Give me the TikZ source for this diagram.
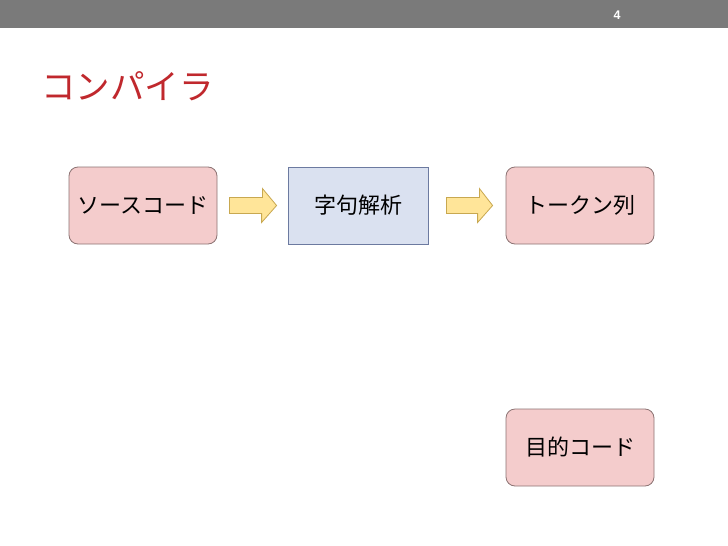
\documentclass[tikz,border=0pt]{standalone}
\usepackage{fontspec}
\usetikzlibrary{calc}
\newfontfamily\jp{Noto Sans CJK JP}
\setmainfont{Liberation Sans}
\definecolor{barg}{HTML}{7A7A7A}
\definecolor{titler}{HTML}{C0282D}
\definecolor{pinkf}{HTML}{F4CCCC}
\definecolor{pinkd}{HTML}{8C7373}
\definecolor{bluef}{HTML}{DAE1F0}
\definecolor{blued}{HTML}{6C7AA0}
\definecolor{arrf}{HTML}{FFE599}
\definecolor{arrd}{HTML}{C8A850}
\begin{document}
\begin{tikzpicture}[x=1pt,y=-1pt,
  boxtext/.style={font=\jp\fontsize{22}{26}\selectfont},
  pinkbox/.style={boxtext,draw=pinkd,fill=pinkf,rounded corners=9pt,minimum width=148pt,minimum height=77pt,line width=0.8pt},
  bluebox/.style={boxtext,draw=blued,fill=bluef,minimum width=140pt,minimum height=77pt,line width=0.8pt},
  blockarr/.style={draw=arrd,fill=arrf,line width=0.8pt,line join=miter}]
\useasboundingbox (0,0) rectangle (728,546);
\fill[white] (0,0) rectangle (728,546);
\fill[barg] (0,0) rectangle (728,28);
\node[text=white,font=\bfseries\fontsize{12.5}{14}\selectfont] (pg) at (617,15) {4};
\node[anchor=west,text=titler,font=\jp\fontsize{34.5}{40}\selectfont,inner sep=0pt] (title) at (41,86) {コンパイラ};
\node[pinkbox] (src) at (143,205.5) {ソースコード};
\node[bluebox] (lex) at (358,205.5) {字句解析};
\node[pinkbox] (tok) at (580,205.5) {トークン列};
\node[pinkbox] (obj) at (580,447.5) {目的コード};
\coordinate (a1s) at ($(src.east)+(12,0)$);
\coordinate (a1e) at ($(lex.west)+(-11,0)$);
\coordinate (a2s) at ($(lex.east)+(18,0)$);
\coordinate (a2e) at ($(tok.west)+(-13,0)$);
\draw[blockarr] (a1s) ++(0,-8) -- ++(33,0) -- ++(0,-9) -- (a1e) -- ($(a1e)+(-15,17)$) -- ++(0,-9) -- ($(a1s)+(0,8)$) -- cycle;
\draw[blockarr] (a2s) ++(0,-8) -- ++(33,0) -- ++(0,-9) -- (a2e) -- ($(a2e)+(-15,17)$) -- ++(0,-9) -- ($(a2s)+(0,8)$) -- cycle;
\end{tikzpicture}
\end{document}
